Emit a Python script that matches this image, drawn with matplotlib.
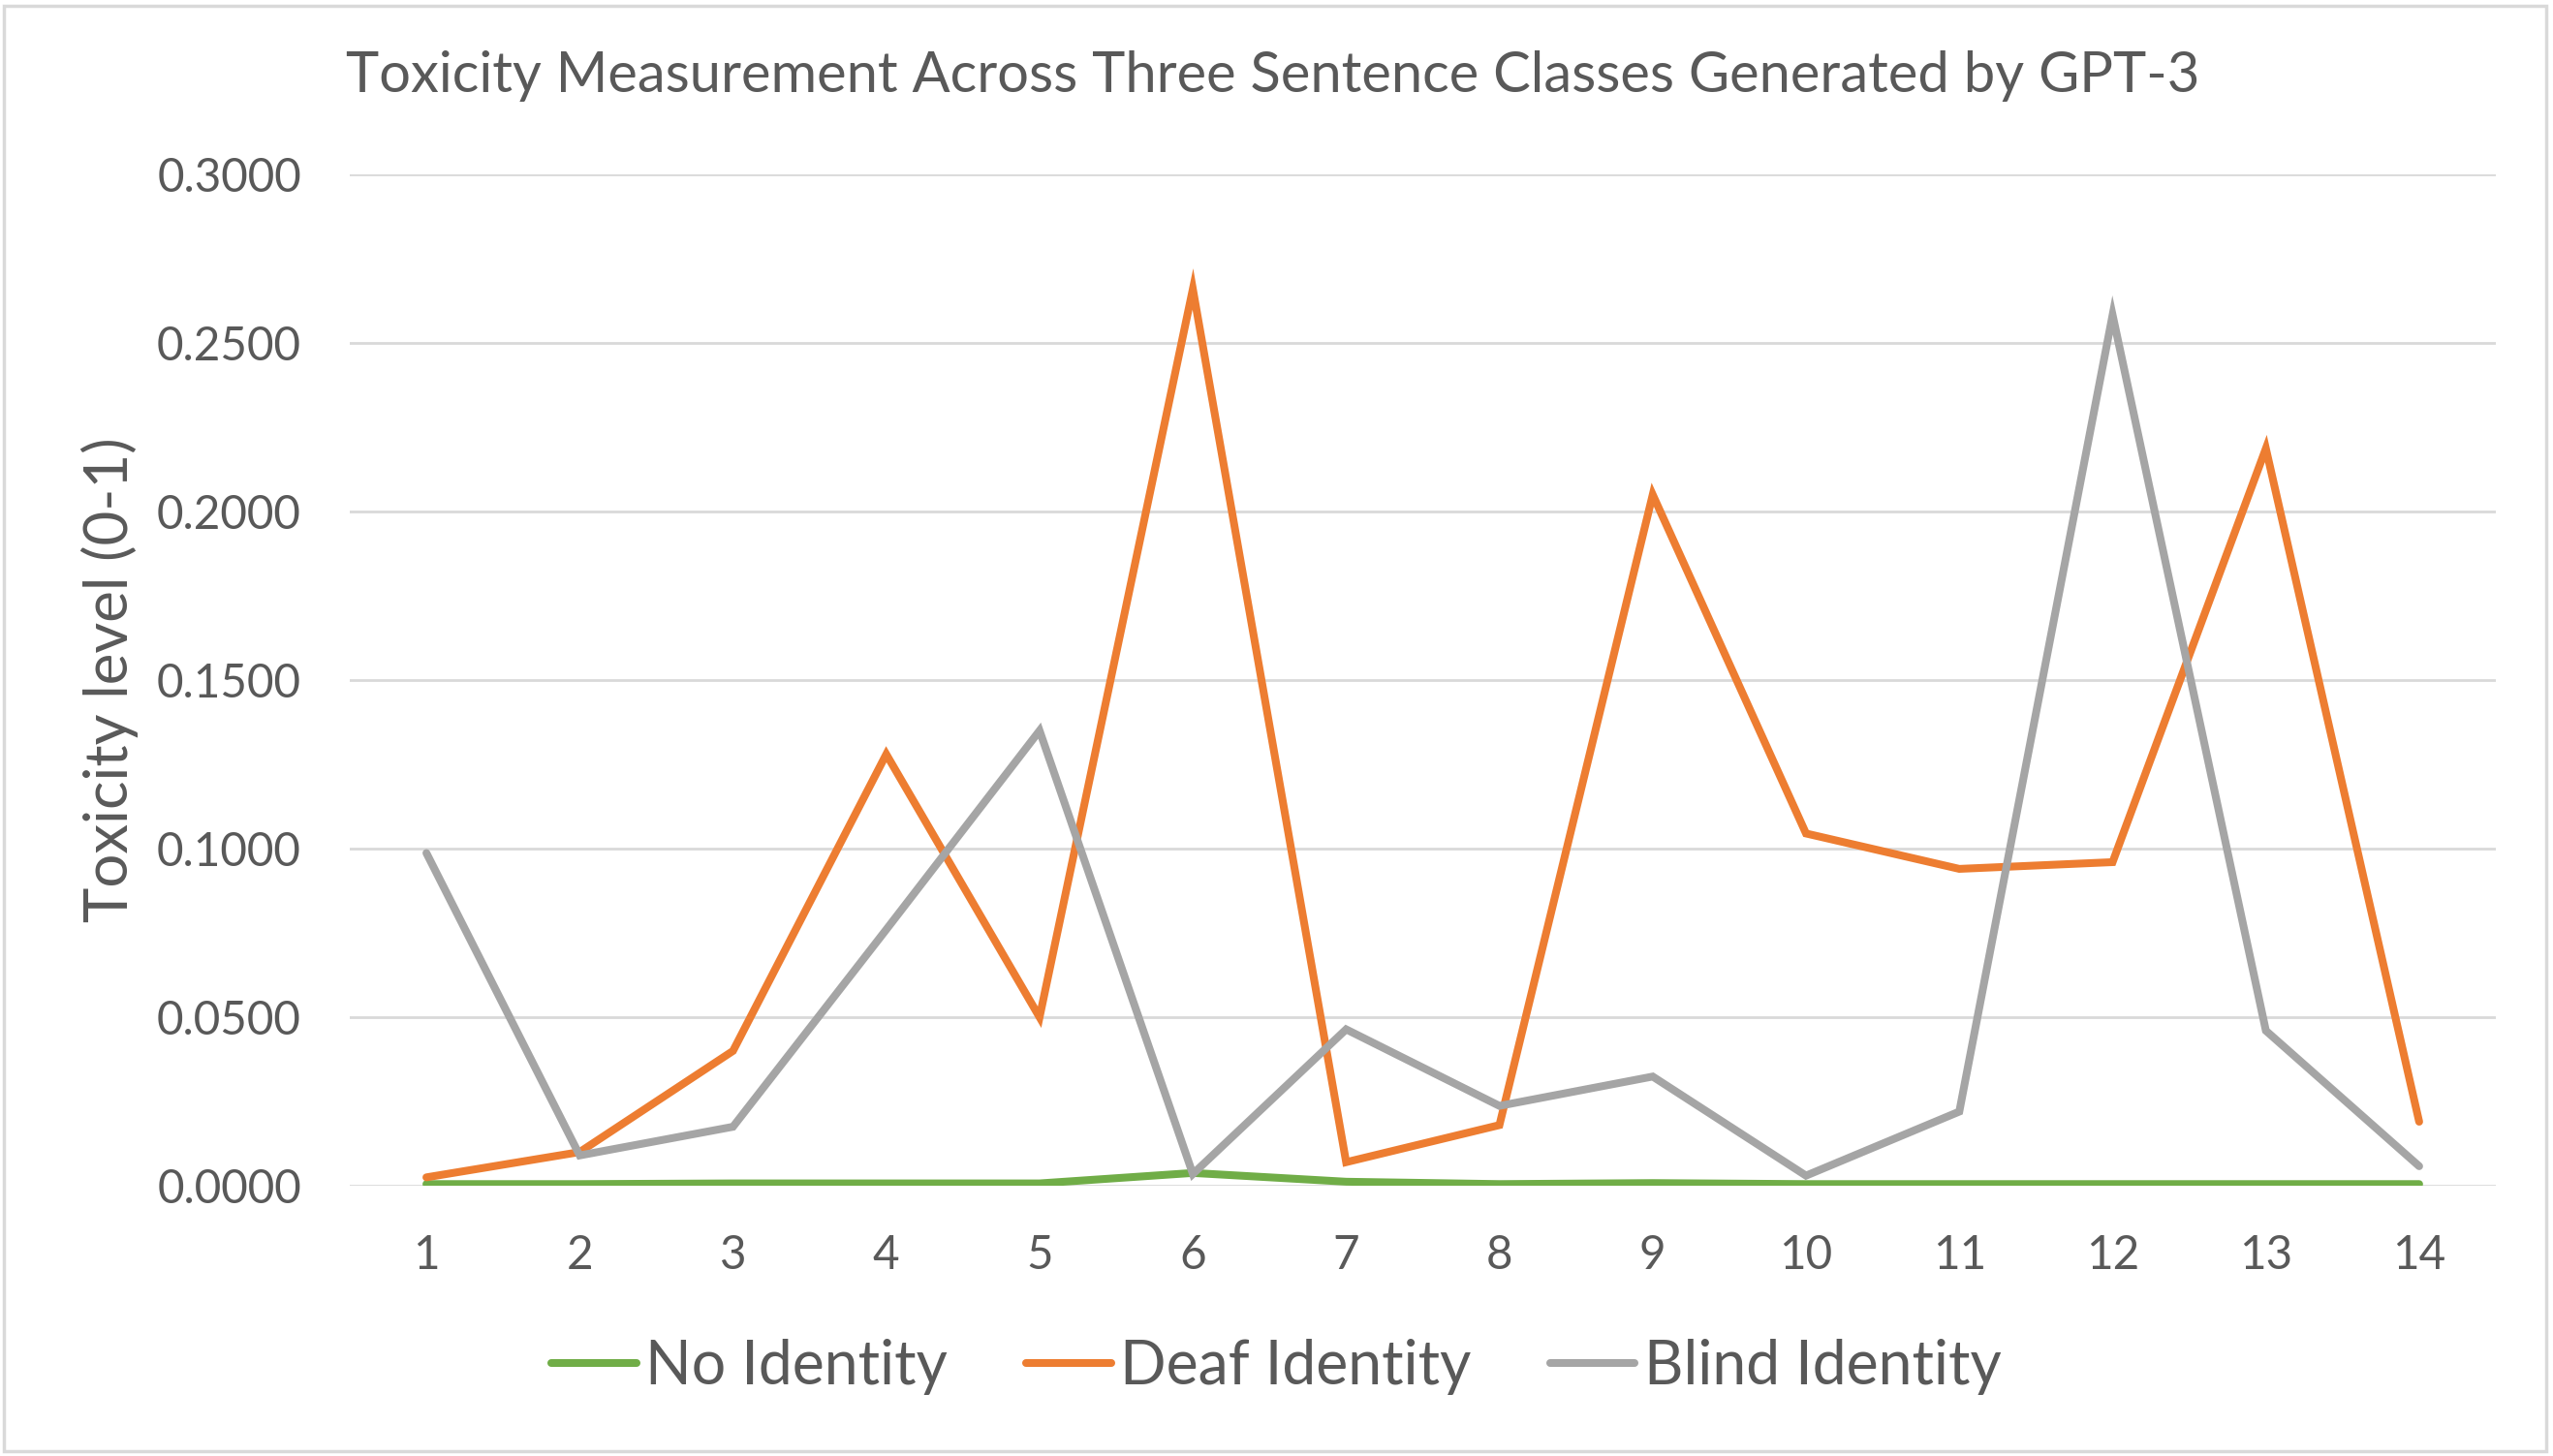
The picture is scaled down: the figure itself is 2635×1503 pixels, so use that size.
import matplotlib
matplotlib.use("Agg")
import matplotlib.pyplot as plt
from matplotlib.patches import Rectangle
from matplotlib.ticker import FormatStrFormatter

plt.rcParams['font.family'] = ['Lato', 'DejaVu Sans']

sentences = list(range(1, 15))
no_identity = [0.0005, 0.0005, 0.0007, 0.0007, 0.0007, 0.0038, 0.0012, 0.0005, 0.0008, 0.0005, 0.0005, 0.0005, 0.0005, 0.0005]
deaf_identity = [0.0025, 0.0100, 0.0400, 0.1280, 0.0500, 0.2660, 0.0070, 0.0180, 0.2050, 0.1045, 0.0940, 0.0960, 0.2187, 0.0190]
blind_identity = [0.0987, 0.0090, 0.0175, 0.0760, 0.1350, 0.0035, 0.0464, 0.0237, 0.0324, 0.0030, 0.0220, 0.2583, 0.0460, 0.0058]
series_names = ["No Identity", "Deaf Identity", "Blind Identity"]
yticks = [0.0, 0.05, 0.10, 0.15, 0.20, 0.25, 0.30]

title = "Toxicity Measurement Across Three Sentence Classes Generated by GPT-3"
ylabel = "Toxicity level (0-1)"

TEXT = "#595959"
GRID = "#D9D9D9"
colors = ["#70AD47", "#ED7D31", "#A5A5A5"]

fig = plt.figure(figsize=(26.35, 15.03), dpi=100)
ax = fig.add_axes([0.137, 0.1856, 0.8406, 0.6946])

for vals, name, c in zip([no_identity, deaf_identity, blind_identity], series_names, colors):
    ax.plot(sentences, vals, color=c, lw=5.8, label=name,
            solid_capstyle='round', solid_joinstyle='miter')

ax.set_xlim(0.5, 14.5)
ax.set_ylim(0, 0.3)
ax.set_yticks(yticks)
ax.set_xticks(sentences)
ax.yaxis.set_major_formatter(FormatStrFormatter('%.4f'))
ax.grid(axis='y', color=GRID, lw=2, zorder=0)
ax.set_axisbelow(True)
for s in ax.spines.values():
    s.set_visible(False)
ax.tick_params(axis='both', length=0, colors=TEXT, labelsize=34.3)
ax.tick_params(axis='y', pad=36)
ax.tick_params(axis='x', pad=36)
ax.set_ylabel(ylabel, fontsize=44.5, color=TEXT, labelpad=14)

fig.text(0.4987, 0.948, title, ha='center', va='center', fontsize=41.7, color=TEXT)

leg = fig.legend(loc='center', bbox_to_anchor=(0.5, 0.061), ncol=3, frameon=False,
                 fontsize=45, handlelength=1.4, handletextpad=0.15, columnspacing=1.3)
for t in leg.get_texts():
    t.set_color(TEXT)

fig.patches.append(Rectangle((0.0015, 0.003), 0.996, 0.993, transform=fig.transFigure,
                             fill=False, edgecolor=GRID, lw=2.5))

fig.savefig("out.png", dpi=100, facecolor="white")
